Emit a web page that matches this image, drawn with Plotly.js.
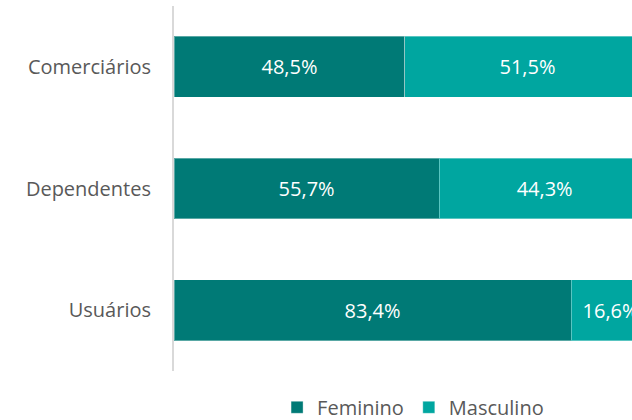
<!DOCTYPE html>
<html><head><meta charset="utf-8">
<script src="https://cdn.plot.ly/plotly-3.0.1.min.js"></script>
<style>html,body{margin:0;padding:0;overflow:hidden;background:#fff}</style>
</head><body><div id="chart" style="width:632px;height:420px"></div>
<script>
var categories = ["Comerciários", "Dependentes", "Usuários"];
var feminino = [48.5, 55.7, 83.4];
var masculino = [51.5, 44.3, 16.6];
var seriesNames = ["Feminino", "Masculino"];

function fmt(v){ return v.toFixed(1).replace('.', ',') + '%'; }

var font = "Open Sans, Noto Sans, sans-serif";
var traces = [
  {type:'bar', orientation:'h', name:seriesNames[0], y:categories, x:feminino,
   text:feminino.map(fmt), textposition:'inside', insidetextanchor:'middle',
   textfont:{color:'#ffffff', size:20, family:font},
   marker:{color:'#007A76', line:{color:'rgba(255,255,255,0.35)', width:1}},
   hoverinfo:'none', cliponaxis:true},
  {type:'bar', orientation:'h', name:seriesNames[1], y:categories, x:masculino,
   text:masculino.map(fmt), textposition:'inside', insidetextanchor:'middle',
   textfont:{color:'#ffffff', size:20, family:font},
   marker:{color:'#00A6A0', line:{color:'rgba(255,255,255,0.35)', width:1}},
   hoverinfo:'none', cliponaxis:true}
];
var layout = {
  width:632, height:420, barmode:'stack', bargap:0.5,
  margin:{l:174, r:0, t:6, b:49, autoexpand:false},
  paper_bgcolor:'#fff', plot_bgcolor:'#fff',
  font:{family:font, size:20, color:'#595959'},
  xaxis:{range:[0, 96.2], visible:false, fixedrange:true},
  yaxis:{autorange:'reversed', showline:true, linecolor:'#d9d9d9', linewidth:2,
         ticks:'', showgrid:false, zeroline:false, ticklabelstandoff:17,
         tickfont:{size:20, color:'#595959', family:font}},
  showlegend:true,
  legend:{orientation:'h', x:0.522, xanchor:'center', y:-0.046, yanchor:'top',
          font:{size:20, color:'#595959', family:font}, traceorder:'normal',
          itemwidth:30}
};
Plotly.newPlot('chart', traces, layout, {staticPlot:true});
</script></body></html>
